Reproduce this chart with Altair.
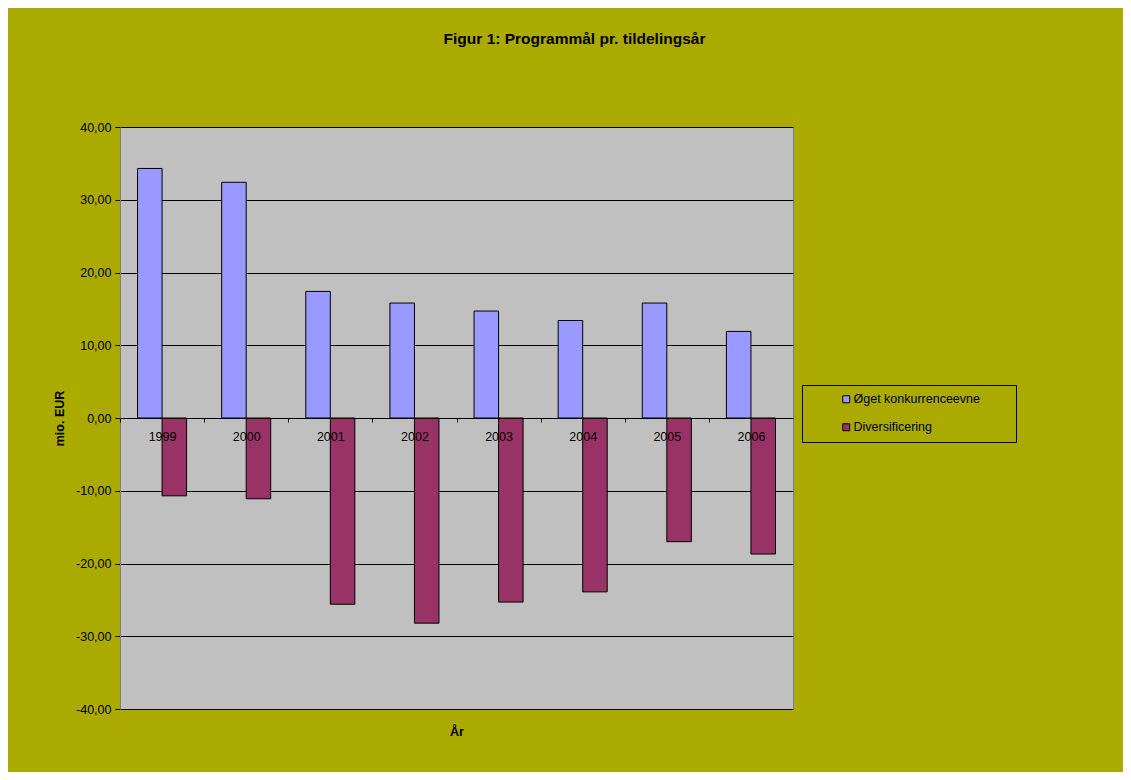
import altair as alt
import pandas as pd

years = ["1999", "2000", "2001", "2002", "2003", "2004", "2005", "2006"]
series_names = ["Øget konkurrenceevne", "Diversificering"]
oget = [34.3, 32.4, 17.4, 15.8, 14.7, 13.4, 15.8, 11.9]
divers = [-10.7, -11.1, -25.6, -28.2, -25.3, -23.9, -17.0, -18.7]
colors = ["#9999FF", "#993366"]
y_ticks = [-40, -30, -20, -10, 0, 10, 20, 30, 40]

rows = []
for i, yr in enumerate(years):
    rows.append({"År": yr, "serie": series_names[0], "v": oget[i]})
    rows.append({"År": yr, "serie": series_names[1], "v": divers[i]})
df = pd.DataFrame(rows)

FONT = "Liberation Sans"
NBSP = "\u00a0"
ZWSP = "\u200b"
MINUS = "\u2212"
HALF_STEP = 673 / 8 / 2

label_expr = (
    "replace(replace(format(datum.value, '.2f'), '.', ','), '" + MINUS + "', '-')"
)

bars = alt.Chart(df).mark_bar(stroke="black", strokeWidth=1).encode(
    x=alt.X(
        "År:N",
        sort=years,
        scale=alt.Scale(paddingInner=0.417, paddingOuter=0.2085),
        axis=alt.Axis(
            title="År",
            orient="bottom",
            offset=-291,
            zindex=1,
            labelAngle=0,
            labelFont=FONT,
            labelFontSize=12.5,
            labelColor="black",
            labelPadding=8,
            tickOffset=-HALF_STEP,
            labelOffset=HALF_STEP,
            domainColor="black",
            domainWidth=1,
            tickColor="black",
            tickSize=4,
            titleFont=FONT,
            titleFontSize=12.5,
            titleFontWeight="bold",
            titleColor="black",
            titleY=313,
            titleBaseline="middle",
            grid=False,
        ),
    ),
    xOffset=alt.XOffset(
        "serie:N",
        sort=series_names,
        scale=alt.Scale(domain=series_names, paddingInner=0, paddingOuter=0),
    ),
    y=alt.Y(
        "v:Q",
        scale=alt.Scale(domain=[-40, 40], nice=False, zero=False),
        axis=alt.Axis(
            title="mio. EUR",
            values=y_ticks,
            labelExpr=label_expr,
            labelFont=FONT,
            labelFontSize=12.5,
            labelColor="black",
            labelPadding=4,
            domainColor="#808080",
            domainWidth=1,
            tickColor="black",
            tickSize=5,
            grid=True,
            gridColor="black",
            gridWidth=1,
            gridOpacity=1,
            titleFont=FONT,
            titleFontSize=12.5,
            titleFontWeight="bold",
            titleColor="black",
            titleX=-61,
            titleY=291,
            titleAngle=-90,
            titleBaseline="middle",
        ),
    ),
    color=alt.Color(
        "serie:N",
        sort=series_names,
        scale=alt.Scale(domain=series_names, range=colors),
        legend=alt.Legend(
            title=None,
            orient="none",
            legendX=682,
            legendY=258,
            direction="vertical",
            padding=8,
            strokeColor="black",
            fillColor="#AAAA00",
            symbolType="square",
            symbolSize=49,
            symbolStrokeColor="black",
            symbolStrokeWidth=1,
            symbolOffset=30,
            labelOffset=1,
            labelFont=FONT,
            labelFontSize=12.5,
            labelColor="black",
            rowPadding=15,
            labelExpr="datum.label + '" + NBSP * 8 + ZWSP + "'",
            labelLimit=400,
        ),
    ),
).properties(
    width=673,
    height=582,
    title=alt.TitleParams(
        text="Figur 1: Programmål pr. tildelingsår",
        font=FONT,
        fontSize=15.5,
        fontWeight="bold",
        color="black",
        anchor="middle",
        dx=118,
        offset=74,
    ),
)

chart = bars.properties(
    background="#AAAA00",
    padding={"left": 112, "top": 119, "right": 330, "bottom": 63},
    autosize=alt.AutoSizeParams(type="none"),
).configure_view(
    fill="#C0C0C0",
    stroke="#808080",
    strokeWidth=1,
)

chart.save("out.html", embed_options={"renderer": "svg", "actions": False})
